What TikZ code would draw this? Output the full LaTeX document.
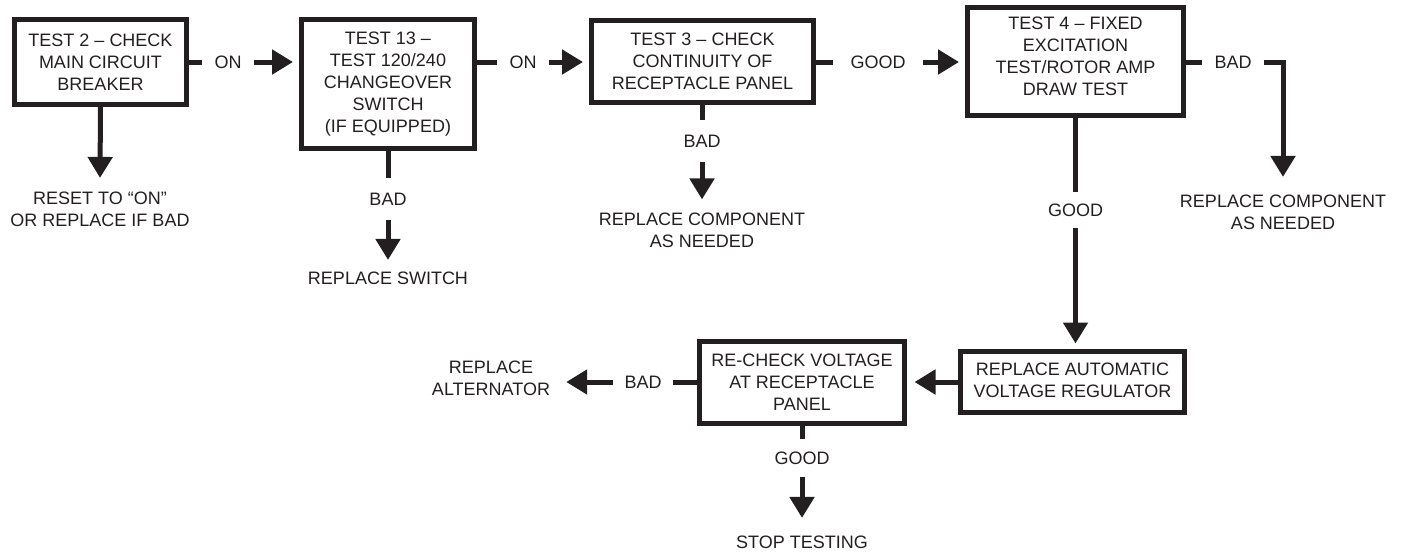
\documentclass[tikz,border=0pt]{standalone}
\usepackage{fontspec}
\setmainfont{Liberation Sans}
\usetikzlibrary{arrows.meta}
\definecolor{ink}{HTML}{231F20}
\tikzset{
  every node/.style={font=\fontsize{18}{22}\selectfont, text=ink, align=center},
  stepbox/.style={draw=ink, line width=5pt, inner sep=0pt, rectangle},
  note/.style={inner sep=0pt},
  hlabel/.style={inner ysep=0pt, inner xsep=#1},
  vlabel/.style={inner xsep=0pt, inner ysep=#1},
  conn/.style={draw=ink, line width=5pt},
  arr/.style={conn, -{Triangle[length=21pt,width=24pt]}},
}
\begin{document}
\begin{tikzpicture}[x=1pt,y=-1pt]
\useasboundingbox (0,0) rectangle (1403,552);

% test boxes
\node[stepbox, minimum width=172pt, minimum height=85pt] (b1) at (100.5,62)
  {TEST 2 -- CHECK\\MAIN CIRCUIT\\BREAKER};
\node[stepbox, minimum width=173pt, minimum height=129pt] (b2) at (388,84)
  {TEST 13 --\\TEST 120/240\\CHANGEOVER\\SWITCH\\(IF EQUIPPED)};
\node[stepbox, minimum width=222pt, minimum height=82pt] (b3) at (702.5,61.5)
  {TEST 3 -- CHECK\\CONTINUITY OF\\RECEPTACLE PANEL};
\node[stepbox, minimum width=216pt, minimum height=108pt, text depth=10pt] (b4) at (1075.5,61.5)
  {TEST 4 -- FIXED\\EXCITATION\\TEST/ROTOR AMP\\DRAW TEST};
\node[stepbox, minimum width=224pt, minimum height=61pt, text depth=3pt] (b5) at (1072.5,382)
  {REPLACE AUTOMATIC\\VOLTAGE REGULATOR};
\node[stepbox, minimum width=205pt, minimum height=82pt] (b6) at (802,382.5)
  {RE-CHECK VOLTAGE\\AT RECEPTACLE\\PANEL};

% outcomes
\node[note] (reset) at (100,209) {RESET TO “ON”\\OR REPLACE IF BAD};
\node[note] (rsw) at (388,278) {REPLACE SWITCH};
\node[note] (rc1) at (702,230.5) {REPLACE COMPONENT\\AS NEEDED};
\node[note] (rc2) at (1283,212) {REPLACE COMPONENT\\AS NEEDED};
\node[note] (alt) at (491,378) {REPLACE\\ALTERNATOR};
\node[note] (stop) at (802,542) {STOP TESTING};

% connector labels
\node[hlabel=12pt] (on1) at (228,62) {ON};
\node[hlabel=12pt] (on2) at (523,62) {ON};
\node[hlabel=17pt] (good3) at (878,62) {GOOD};
\node[hlabel=12pt] (bad4) at (1233,62) {BAD};
\node[vlabel=14.5pt] (bad2) at (388,199) {BAD};
\node[vlabel=14.5pt] (bad3) at (702,141) {BAD};
\node[vlabel=11.5pt] (good4) at (1075.5,210) {GOOD};
\node[hlabel=11.5pt] (bad6) at (643,382) {BAD};
\node[vlabel=12pt] (good6) at (802,458) {GOOD};

% main row
\draw[conn] (b1.east) -- (on1.west);
\draw[arr, shorten >=6pt] (on1.east) -- (on1.east -| b2.west);
\draw[conn] (b2.east |- on2) -- (on2.west);
\draw[arr, shorten >=6pt] (on2.east) -- (b3.west |- on2.east);
\draw[conn] (b3.east |- good3) -- (good3.west);
\draw[arr, shorten >=6pt] (good3.east) -- (b4.west |- good3.east);
\draw[conn] (b4.east |- bad4) -- (bad4.west);
\draw[arr] (bad4.east) -| ([yshift=17.5pt]rc2.north);

% downward branches
\draw[arr] (b1.south) -- ([yshift=13.5pt]reset.north);
\draw[conn] (b2.south) -- (bad2.north);
\draw[arr] (bad2.south) -- ([yshift=11.5pt]rsw.north);
\draw[conn] (b3.south -| bad3) -- (bad3.north);
\draw[arr] (bad3.south) -- ([yshift=13.5pt]rc1.north -| bad3);
\draw[conn] (b4.south -| good4) -- (good4.north);
\draw[arr, shorten >=5.5pt] (good4.south) -- (good4.south |- b5.north);

% lower row
\draw[arr, shorten >=7.5pt] (b5.west) -- (b6.east |- b5.west);
\draw[conn] (b6.west |- bad6) -- (bad6.east);
\draw[arr] (bad6.west) -- ([xshift=16pt]alt.east |- bad6.west);
\draw[conn] (b6.south) -- (good6.north);
\draw[arr] (good6.south) -- ([yshift=17.5pt]stop.north);
\end{tikzpicture}
\end{document}
